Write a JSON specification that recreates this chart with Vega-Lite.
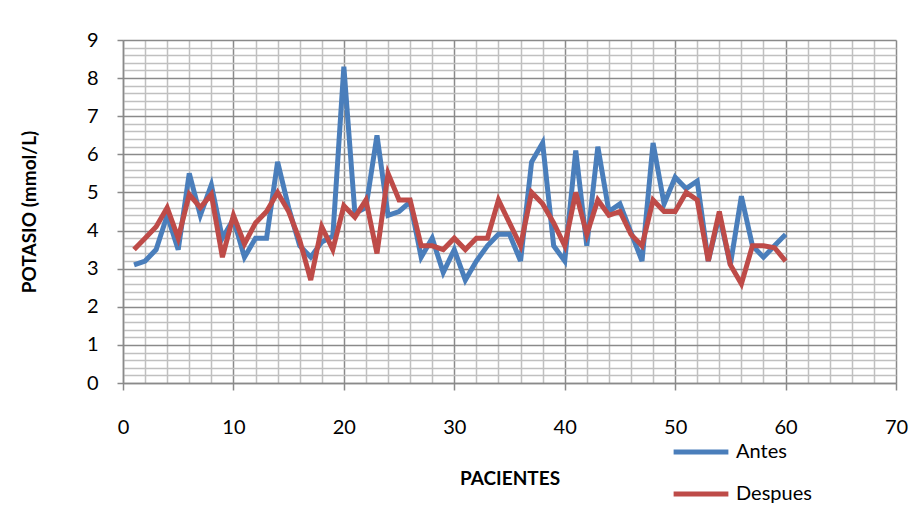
{
  "$schema": "https://vega.github.io/schema/vega-lite/v6.json",
  "autosize": {"type": "none"},
  "width": 773,
  "height": 343,
  "padding": {"left": 123, "top": 40, "right": 16, "bottom": 127},
  "background": "white",
  "config": {
    "view": {"stroke": null},
    "font": "Lato",
    "axis": {"labelFont": "Lato", "titleFont": "Lato"}
  },
  "data": {"values": [
    {"paciente":1,"grupo":"Antes","potasio":3.1},{"paciente":2,"grupo":"Antes","potasio":3.2},{"paciente":3,"grupo":"Antes","potasio":3.5},{"paciente":4,"grupo":"Antes","potasio":4.4},{"paciente":5,"grupo":"Antes","potasio":3.5},{"paciente":6,"grupo":"Antes","potasio":5.5},{"paciente":7,"grupo":"Antes","potasio":4.4},{"paciente":8,"grupo":"Antes","potasio":5.2},{"paciente":9,"grupo":"Antes","potasio":3.8},{"paciente":10,"grupo":"Antes","potasio":4.3},
    {"paciente":11,"grupo":"Antes","potasio":3.3},{"paciente":12,"grupo":"Antes","potasio":3.8},{"paciente":13,"grupo":"Antes","potasio":3.8},{"paciente":14,"grupo":"Antes","potasio":5.8},{"paciente":15,"grupo":"Antes","potasio":4.6},{"paciente":16,"grupo":"Antes","potasio":3.6},{"paciente":17,"grupo":"Antes","potasio":3.3},{"paciente":18,"grupo":"Antes","potasio":3.7},{"paciente":19,"grupo":"Antes","potasio":3.85},{"paciente":20,"grupo":"Antes","potasio":8.3},
    {"paciente":21,"grupo":"Antes","potasio":4.45},{"paciente":22,"grupo":"Antes","potasio":4.6},{"paciente":23,"grupo":"Antes","potasio":6.5},{"paciente":24,"grupo":"Antes","potasio":4.4},{"paciente":25,"grupo":"Antes","potasio":4.5},{"paciente":26,"grupo":"Antes","potasio":4.75},{"paciente":27,"grupo":"Antes","potasio":3.3},{"paciente":28,"grupo":"Antes","potasio":3.8},{"paciente":29,"grupo":"Antes","potasio":2.9},{"paciente":30,"grupo":"Antes","potasio":3.5},
    {"paciente":31,"grupo":"Antes","potasio":2.7},{"paciente":32,"grupo":"Antes","potasio":3.2},{"paciente":33,"grupo":"Antes","potasio":3.6},{"paciente":34,"grupo":"Antes","potasio":3.9},{"paciente":35,"grupo":"Antes","potasio":3.9},{"paciente":36,"grupo":"Antes","potasio":3.2},{"paciente":37,"grupo":"Antes","potasio":5.8},{"paciente":38,"grupo":"Antes","potasio":6.3},{"paciente":39,"grupo":"Antes","potasio":3.6},{"paciente":40,"grupo":"Antes","potasio":3.2},
    {"paciente":41,"grupo":"Antes","potasio":6.1},{"paciente":42,"grupo":"Antes","potasio":3.6},{"paciente":43,"grupo":"Antes","potasio":6.2},{"paciente":44,"grupo":"Antes","potasio":4.5},{"paciente":45,"grupo":"Antes","potasio":4.7},{"paciente":46,"grupo":"Antes","potasio":3.95},{"paciente":47,"grupo":"Antes","potasio":3.2},{"paciente":48,"grupo":"Antes","potasio":6.3},{"paciente":49,"grupo":"Antes","potasio":4.7},{"paciente":50,"grupo":"Antes","potasio":5.4},
    {"paciente":51,"grupo":"Antes","potasio":5.1},{"paciente":52,"grupo":"Antes","potasio":5.3},{"paciente":53,"grupo":"Antes","potasio":3.2},{"paciente":54,"grupo":"Antes","potasio":4.4},{"paciente":55,"grupo":"Antes","potasio":3.1},{"paciente":56,"grupo":"Antes","potasio":4.9},{"paciente":57,"grupo":"Antes","potasio":3.6},{"paciente":58,"grupo":"Antes","potasio":3.3},{"paciente":59,"grupo":"Antes","potasio":3.6},{"paciente":60,"grupo":"Antes","potasio":3.9},
    {"paciente":1,"grupo":"Despues","potasio":3.5},{"paciente":2,"grupo":"Despues","potasio":3.8},{"paciente":3,"grupo":"Despues","potasio":4.1},{"paciente":4,"grupo":"Despues","potasio":4.6},{"paciente":5,"grupo":"Despues","potasio":3.8},{"paciente":6,"grupo":"Despues","potasio":4.95},{"paciente":7,"grupo":"Despues","potasio":4.6},{"paciente":8,"grupo":"Despues","potasio":4.95},{"paciente":9,"grupo":"Despues","potasio":3.3},{"paciente":10,"grupo":"Despues","potasio":4.4},
    {"paciente":11,"grupo":"Despues","potasio":3.65},{"paciente":12,"grupo":"Despues","potasio":4.2},{"paciente":13,"grupo":"Despues","potasio":4.5},{"paciente":14,"grupo":"Despues","potasio":5.0},{"paciente":15,"grupo":"Despues","potasio":4.5},{"paciente":16,"grupo":"Despues","potasio":3.75},{"paciente":17,"grupo":"Despues","potasio":2.7},{"paciente":18,"grupo":"Despues","potasio":4.1},{"paciente":19,"grupo":"Despues","potasio":3.5},{"paciente":20,"grupo":"Despues","potasio":4.65},
    {"paciente":21,"grupo":"Despues","potasio":4.35},{"paciente":22,"grupo":"Despues","potasio":4.8},{"paciente":23,"grupo":"Despues","potasio":3.4},{"paciente":24,"grupo":"Despues","potasio":5.5},{"paciente":25,"grupo":"Despues","potasio":4.8},{"paciente":26,"grupo":"Despues","potasio":4.8},{"paciente":27,"grupo":"Despues","potasio":3.6},{"paciente":28,"grupo":"Despues","potasio":3.6},{"paciente":29,"grupo":"Despues","potasio":3.5},{"paciente":30,"grupo":"Despues","potasio":3.8},
    {"paciente":31,"grupo":"Despues","potasio":3.5},{"paciente":32,"grupo":"Despues","potasio":3.8},{"paciente":33,"grupo":"Despues","potasio":3.8},{"paciente":34,"grupo":"Despues","potasio":4.8},{"paciente":35,"grupo":"Despues","potasio":4.2},{"paciente":36,"grupo":"Despues","potasio":3.6},{"paciente":37,"grupo":"Despues","potasio":5.0},{"paciente":38,"grupo":"Despues","potasio":4.7},{"paciente":39,"grupo":"Despues","potasio":4.2},{"paciente":40,"grupo":"Despues","potasio":3.6},
    {"paciente":41,"grupo":"Despues","potasio":5.0},{"paciente":42,"grupo":"Despues","potasio":3.9},{"paciente":43,"grupo":"Despues","potasio":4.8},{"paciente":44,"grupo":"Despues","potasio":4.4},{"paciente":45,"grupo":"Despues","potasio":4.5},{"paciente":46,"grupo":"Despues","potasio":3.9},{"paciente":47,"grupo":"Despues","potasio":3.6},{"paciente":48,"grupo":"Despues","potasio":4.8},{"paciente":49,"grupo":"Despues","potasio":4.5},{"paciente":50,"grupo":"Despues","potasio":4.5},
    {"paciente":51,"grupo":"Despues","potasio":5.0},{"paciente":52,"grupo":"Despues","potasio":4.8},{"paciente":53,"grupo":"Despues","potasio":3.2},{"paciente":54,"grupo":"Despues","potasio":4.5},{"paciente":55,"grupo":"Despues","potasio":3.1},{"paciente":56,"grupo":"Despues","potasio":2.6},{"paciente":57,"grupo":"Despues","potasio":3.6},{"paciente":58,"grupo":"Despues","potasio":3.6},{"paciente":59,"grupo":"Despues","potasio":3.55},{"paciente":60,"grupo":"Despues","potasio":3.2}
  ]},
  "mark": {"type": "line", "strokeWidth": 5, "strokeJoin": "miter", "strokeCap": "butt"},
  "encoding": {
    "x": {
      "field": "paciente", "type": "quantitative",
      "scale": {"domain": [0, 70], "nice": false, "zero": false},
      "axis": {
        "title": "PACIENTES",
        "titleFontSize": 19, "titleFontWeight": "bold", "titleColor": "black", "titlePadding": 32,
        "values": [0,2,4,6,8,10,12,14,16,18,20,22,24,26,28,30,32,34,36,38,40,42,44,46,48,50,52,54,56,58,60,62,64,66,68,70],
        "labelExpr": "datum.value % 10 === 0 ? format(datum.value, 'd') : ''",
        "labelFontSize": 20, "labelColor": "black", "labelPadding": 27, "labelFlush": false, "labelOverlap": false,
        "grid": true,
        "gridColor": {"condition": {"test": "datum.value % 10 === 0", "value": "#8a8a8a"}, "value": "#c0c0c0"},
        "gridWidth": 1.5,
        "domainColor": "#8a8a8a", "domainWidth": 1.5,
        "ticks": true, "tickSize": 7, "tickWidth": 1.5,
        "tickColor": {"condition": {"test": "datum.value % 10 === 0", "value": "#8a8a8a"}, "value": "transparent"}
      }
    },
    "y": {
      "field": "potasio", "type": "quantitative",
      "scale": {"domain": [0, 9], "nice": false},
      "axis": {
        "title": "POTASIO (mmol/L)",
        "titleFontSize": 19, "titleFontWeight": "bold", "titleColor": "black", "titlePadding": 47,
        "values": [0,0.2,0.4,0.6,0.8,1,1.2,1.4,1.6,1.8,2,2.2,2.4,2.6,2.8,3,3.2,3.4,3.6,3.8,4,4.2,4.4,4.6,4.8,5,5.2,5.4,5.6,5.8,6,6.2,6.4,6.6,6.8,7,7.2,7.4,7.6,7.8,8,8.2,8.4,8.6,8.8,9],
        "labelExpr": "datum.value % 1 === 0 ? format(datum.value, 'd') : ''",
        "labelFontSize": 20, "labelColor": "black", "labelPadding": 19, "labelOverlap": false, "labelFlush": false,
        "grid": true,
        "gridColor": {"condition": {"test": "datum.value % 1 === 0", "value": "#8a8a8a"}, "value": "#c0c0c0"},
        "gridWidth": 1.5,
        "domainColor": "#8a8a8a", "domainWidth": 1.5,
        "ticks": true, "tickSize": 6, "tickWidth": 1.5,
        "tickColor": {"condition": {"test": "datum.value % 1 === 0", "value": "#8a8a8a"}, "value": "transparent"}
      }
    },
    "color": {
      "field": "grupo", "type": "nominal",
      "scale": {"domain": ["Antes", "Despues"], "range": ["#4a7ebb", "#be4b48"]},
      "legend": {
        "title": null, "orient": "none", "legendX": 548, "legendY": 382,
        "symbolType": "stroke", "symbolSize": 3000, "symbolStrokeWidth": 5,
        "labelFontSize": 20, "labelColor": "black", "labelFont": "Lato", "labelOffset": 5,
        "rowPadding": 2, "padding": 0
      }
    }
  }
}
